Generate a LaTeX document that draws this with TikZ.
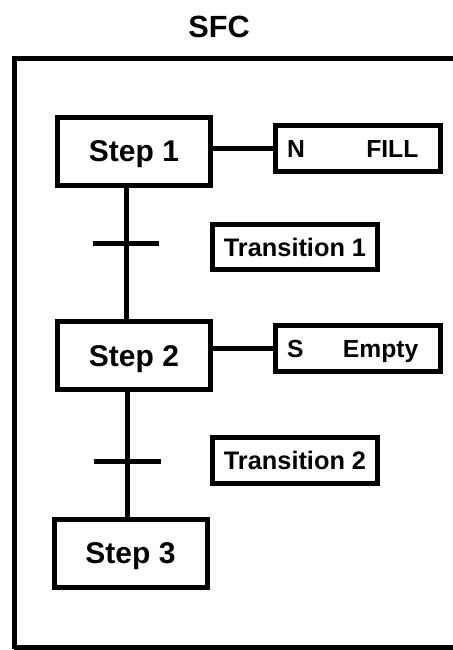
\documentclass[tikz,border=0pt]{standalone}
\usepackage{fontspec}
\setmainfont{Liberation Sans}
\tikzset{
    wire/.style={line width=3.75pt},
    stepbox/.style={draw,line width=3.75pt,minimum width=114.75pt,minimum height=51pt,
        inner sep=0pt,font=\bfseries\fontsize{22.5}{24}\selectfont,text height=16.1pt,text depth=0pt},
    actbox/.style={draw,line width=3.75pt,minimum width=123.75pt,minimum height=34.5pt,
        inner sep=0pt,text width=106.5pt,font=\bfseries\fontsize{18.5}{20}\selectfont,text height=13.3pt,text depth=0pt},
    transbox/.style={draw,line width=3.75pt,minimum width=123.75pt,minimum height=34pt,
        inner sep=0pt,font=\bfseries\fontsize{19}{21}\selectfont,text height=13.6pt,text depth=0pt}
}
\begin{document}
\begin{tikzpicture}[x=0.75pt,y=-0.75pt]
    \clip (0,0) rectangle (453,650);
    \node[anchor=base,font=\bfseries\fontsize{23}{25}\selectfont] (title) at (219,37) {SFC};
    \draw[wire] (14,649) -- (14,58) -- (470,58);
    \draw[wire] (14,647) -- (470,647);
    \node[stepbox] (step1) at (134,151) {Step 1};
    \node[stepbox] (step2) at (134,355.5) {Step 2};
    \node[stepbox] (step3) at (130.5,553) {Step 3};
    \node[actbox] (act1) at (358,148.5) {N\hfill FILL\hspace*{8pt}\null};
    \node[actbox] (act2) at (358,348.5) {S\hfill Empty\hspace*{8pt}\null};
    \node[transbox] (trans1) at (295,247) {Transition 1};
    \node[transbox] (trans2) at (295,460.5) {Transition 2};
    \coordinate (t1) at (126,243);
    \coordinate (t2) at (127,461);
    \draw[wire] (step1.south -| t1) -- (step2.north -| t1);
    \draw[wire] (step2.south -| t2) -- (step3.north -| t2);
    \draw[wire] (t1) ++(-33,0) -- ++(66,0);
    \draw[wire] (t2) ++(-33,0) -- ++(67,0);
    \draw[wire] (act1.west) -- (act1.west -| step1.east);
    \draw[wire] (act2.west) -- (act2.west -| step2.east);
\end{tikzpicture}
\end{document}
